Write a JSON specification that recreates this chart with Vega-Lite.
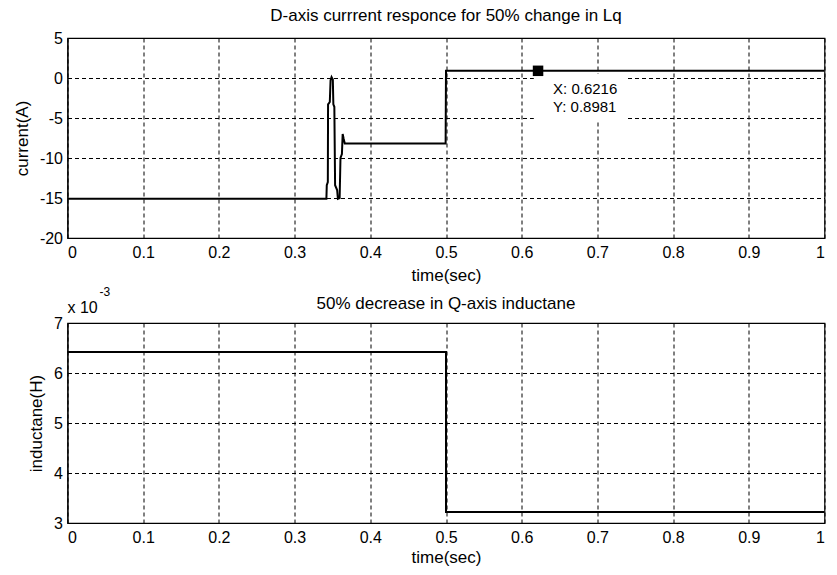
{
  "$schema": "https://vega.github.io/schema/vega-lite/v6.json",
  "background": "white",
  "padding": {"left": 11.5, "top": 6, "right": 5, "bottom": 5},
  "spacing": 1,
  "config": {
    "font": "Liberation Sans",
    "view": {"stroke": "black", "strokeWidth": 1.2},
    "axis": {
      "labelFont": "Liberation Sans",
      "titleFont": "Liberation Sans",
      "labelFontSize": 16,
      "titleFontSize": 17,
      "titleFontWeight": "normal",
      "labelColor": "black",
      "titleColor": "black",
      "domainColor": "black",
      "gridColor": "black",
      "gridDash": [4, 3],
      "gridOpacity": 1,
      "gridWidth": 1,
      "ticks": false
    },
    "title": {"font": "Liberation Sans", "fontSize": 17, "fontWeight": "normal", "color": "black", "offset": 5}
  },
  "vconcat": [
    {
      "width": 757,
      "height": 200,
      "title": "D-axis currrent responce for 50% change in Lq",
      "layer": [
        {
          "data": {"values": [{"x1": 0.616, "x2": 0.737, "y1": 0.5, "y2": -5.3}]},
          "mark": {"type": "rect", "fill": "white"},
          "encoding": {
            "x": {"field": "x1", "type": "quantitative", "scale": {"domain": [0, 1], "nice": false},
              "axis": {"values": [0, 0.1, 0.2, 0.3, 0.4, 0.5, 0.6, 0.7, 0.8, 0.9, 1], "format": "~g", "title": "time(sec)", "labelPadding": 6, "titlePadding": 7}},
            "x2": {"field": "x2"},
            "y": {"field": "y1", "type": "quantitative", "scale": {"domain": [-20, 5], "nice": false},
              "axis": {"values": [-20, -15, -10, -5, 0, 5], "labelExpr": "'' + datum.value", "title": "current(A)", "labelPadding": 5, "minExtent": 28, "maxExtent": 28, "titlePadding": 8.5}},
            "y2": {"field": "y2"}
          }
        },
        {
          "data": {"values": [
            {"t": 0, "i": -15.1},
            {"t": 0.342, "i": -15.1},
            {"t": 0.3425, "i": -13.4},
            {"t": 0.3439, "i": -13.0},
            {"t": 0.3442, "i": -3.3},
            {"t": 0.3465, "i": -3.0},
            {"t": 0.3475, "i": -0.3},
            {"t": 0.3488, "i": 0.1},
            {"t": 0.3505, "i": -0.2},
            {"t": 0.3512, "i": -3.3},
            {"t": 0.3525, "i": -3.6},
            {"t": 0.3535, "i": -13.4},
            {"t": 0.3562, "i": -14.0},
            {"t": 0.3572, "i": -15.1},
            {"t": 0.3595, "i": -15.0},
            {"t": 0.3606, "i": -10.0},
            {"t": 0.3625, "i": -9.5},
            {"t": 0.3635, "i": -7.0},
            {"t": 0.3648, "i": -7.6},
            {"t": 0.3663, "i": -8.2},
            {"t": 0.4995, "i": -8.2},
            {"t": 0.5, "i": 0.9},
            {"t": 1, "i": 0.9}
          ]},
          "mark": {"type": "line", "color": "black", "strokeWidth": 2, "clip": true},
          "encoding": {
            "x": {"field": "t", "type": "quantitative", "scale": {"domain": [0, 1], "nice": false},
              "axis": {"values": [0, 0.1, 0.2, 0.3, 0.4, 0.5, 0.6, 0.7, 0.8, 0.9, 1], "format": "~g", "title": "time(sec)", "labelPadding": 6, "titlePadding": 7}},
            "y": {"field": "i", "type": "quantitative", "scale": {"domain": [-20, 5], "nice": false},
              "axis": {"values": [-20, -15, -10, -5, 0, 5], "labelExpr": "'' + datum.value", "title": "current(A)", "labelPadding": 5, "minExtent": 28, "maxExtent": 28, "titlePadding": 8.5}}
          }
        },
        {
          "data": {"values": [{"t": 0.6216, "i": 0.8981}]},
          "layer": [
            {"mark": {"type": "point", "shape": "square", "filled": true, "color": "black", "opacity": 1, "size": 110}},
            {"mark": {"type": "text", "text": "X: 0.6216", "align": "left", "baseline": "alphabetic", "dx": 15, "dy": 23, "fontSize": 15, "color": "black"}},
            {"mark": {"type": "text", "text": "Y: 0.8981", "align": "left", "baseline": "alphabetic", "dx": 15, "dy": 41.5, "fontSize": 15, "color": "black"}}
          ],
          "encoding": {
            "x": {"field": "t", "type": "quantitative", "scale": {"domain": [0, 1], "nice": false},
              "axis": {"values": [0, 0.1, 0.2, 0.3, 0.4, 0.5, 0.6, 0.7, 0.8, 0.9, 1], "format": "~g", "title": "time(sec)", "labelPadding": 6, "titlePadding": 7}},
            "y": {"field": "i", "type": "quantitative", "scale": {"domain": [-20, 5], "nice": false},
              "axis": {"values": [-20, -15, -10, -5, 0, 5], "labelExpr": "'' + datum.value", "title": "current(A)", "labelPadding": 5, "minExtent": 28, "maxExtent": 28, "titlePadding": 8.5}}
          }
        }
      ]
    },
    {
      "width": 757,
      "height": 200,
      "title": {"text": "50% decrease in Q-axis inductane", "offset": 13, "dy": 40},
      "layer": [
        {
          "data": {"values": [
            {"t": 0, "L": 0.00642},
            {"t": 0.5, "L": 0.00642},
            {"t": 0.5, "L": 0.00322},
            {"t": 1, "L": 0.00322}
          ]},
          "mark": {"type": "line", "color": "black", "strokeWidth": 2},
          "encoding": {
            "x": {"field": "t", "type": "quantitative", "scale": {"domain": [0, 1], "nice": false},
              "axis": {"values": [0, 0.1, 0.2, 0.3, 0.4, 0.5, 0.6, 0.7, 0.8, 0.9, 1], "format": "~g", "title": "time(sec)", "labelPadding": 6, "titlePadding": 4}},
            "y": {"field": "L", "type": "quantitative", "scale": {"domain": [0.003, 0.007], "nice": false},
              "axis": {"values": [0.003, 0.004, 0.005, 0.006, 0.007], "labelExpr": "format(datum.value * 1000, '~g')", "title": "inductane(H)", "labelPadding": 5, "minExtent": 14, "maxExtent": 14, "titlePadding": 8.5}}
          }
        },
        {
          "data": {"values": [{}]},
          "mark": {"type": "text", "text": "x 10", "align": "left", "baseline": "alphabetic", "dx": 0, "dy": -10, "fontSize": 16, "color": "black"},
          "encoding": {
            "x": {"datum": 0, "type": "quantitative", "scale": {"domain": [0, 1], "nice": false},
              "axis": {"values": [0, 0.1, 0.2, 0.3, 0.4, 0.5, 0.6, 0.7, 0.8, 0.9, 1], "format": "~g", "title": "time(sec)", "labelPadding": 6, "titlePadding": 4}},
            "y": {"datum": 0.007, "type": "quantitative", "scale": {"domain": [0.003, 0.007], "nice": false},
              "axis": {"values": [0.003, 0.004, 0.005, 0.006, 0.007], "labelExpr": "format(datum.value * 1000, '~g')", "title": "inductane(H)", "labelPadding": 5, "minExtent": 14, "maxExtent": 14, "titlePadding": 8.5}}
          }
        },
        {
          "data": {"values": [{}]},
          "mark": {"type": "text", "text": "-3", "align": "left", "baseline": "alphabetic", "dx": 32, "dy": -27, "fontSize": 12, "color": "black"},
          "encoding": {
            "x": {"datum": 0, "type": "quantitative", "scale": {"domain": [0, 1], "nice": false},
              "axis": {"values": [0, 0.1, 0.2, 0.3, 0.4, 0.5, 0.6, 0.7, 0.8, 0.9, 1], "format": "~g", "title": "time(sec)", "labelPadding": 6, "titlePadding": 4}},
            "y": {"datum": 0.007, "type": "quantitative", "scale": {"domain": [0.003, 0.007], "nice": false},
              "axis": {"values": [0.003, 0.004, 0.005, 0.006, 0.007], "labelExpr": "format(datum.value * 1000, '~g')", "title": "inductane(H)", "labelPadding": 5, "minExtent": 14, "maxExtent": 14, "titlePadding": 8.5}}
          }
        }
      ]
    }
  ]
}
